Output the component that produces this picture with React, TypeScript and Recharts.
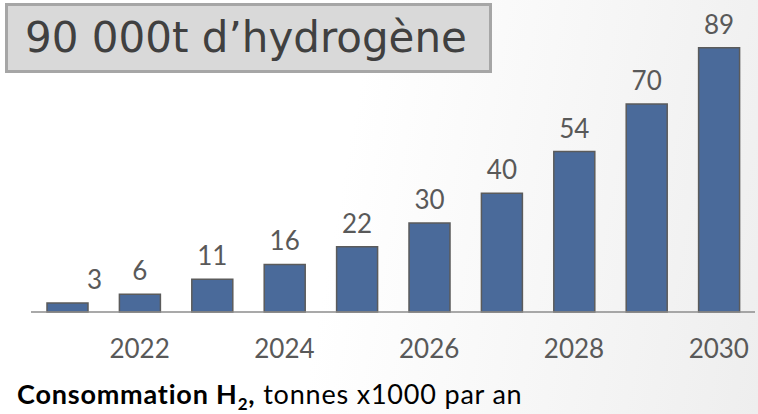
import { BarChart, Bar, XAxis, YAxis, LabelList } from 'recharts';

const years = [2021, 2022, 2023, 2024, 2025, 2026, 2027, 2028, 2029, 2030];
const consumption = [3, 6, 11, 16, 22, 30, 40, 54, 70, 89];
const tickYears = [2022, 2024, 2026, 2028, 2030];

const data = years.map((year, i) => ({ year, value: consumption[i] }));

const FONT = 'Lato, "Open Sans", sans-serif';

// first label sits a bit to the right in the original so it doesn't crowd "6"
function ValueLabel(props: any) {
  const { x, y, width, value, index } = props;
  const shift = index === 0 ? 27 : 0;
  return (
    <text
      x={x + width / 2 + shift}
      y={y - 14}
      textAnchor="middle"
      fill="#595959"
      fontSize={26}
      fontFamily={FONT}
    >
      {value}
    </text>
  );
}

export default function App() {
  return (
    <div
      style={{
        position: 'fixed',
        left: 0,
        top: 0,
        width: 758,
        height: 414,
        background: 'linear-gradient(100deg, #ffffff 45%, #eeeeee 100%)',
        overflow: 'hidden',
      }}
    >
      <BarChart
        width={758}
        height={414}
        data={data}
        margin={{ top: 15, right: 3, bottom: 72, left: 31 }}
        barSize={41}
      >
        <XAxis
          dataKey="year"
          height={30}
          axisLine={{ stroke: '#8c8c8c', strokeWidth: 1.5 }}
          tickLine={false}
          interval={0}
          tickMargin={22}
          tickFormatter={(v: number) => (tickYears.includes(v) ? String(v) : '')}
          tick={{ fill: '#595959', fontSize: 26, fontFamily: FONT }}
        />
        <YAxis hide domain={[0, 100]} />
        <Bar
          dataKey="value"
          fill="#4a6a9a"
          stroke="#5b5b5b"
          strokeWidth={1.5}
          isAnimationActive={false}
        >
          <LabelList dataKey="value" content={ValueLabel} />
        </Bar>
      </BarChart>

      <div
        style={{
          position: 'absolute',
          left: 5,
          top: 3,
          width: 464,
          height: 64,
          background: '#d9d9d9',
          border: '3px solid #a6a6a6',
          color: '#404040',
          fontFamily: '"DejaVu Sans", sans-serif',
          fontSize: 42,
          lineHeight: '64px',
          paddingLeft: 17,
          boxSizing: 'content-box',
          whiteSpace: 'nowrap',
        }}
      >
        90 000t d’hydrogène
      </div>

      <div
        style={{
          position: 'absolute',
          left: 17,
          top: 377,
          fontFamily: FONT,
          fontSize: 27,
          letterSpacing: 0.8,
          lineHeight: '34px',
          color: '#000',
          whiteSpace: 'nowrap',
        }}
      >
        <b>
          Consommation H<sub style={{ fontSize: 17, lineHeight: 0 }}>2</sub>,
        </b>{' '}
        tonnes x1000 par an
      </div>
    </div>
  );
}
